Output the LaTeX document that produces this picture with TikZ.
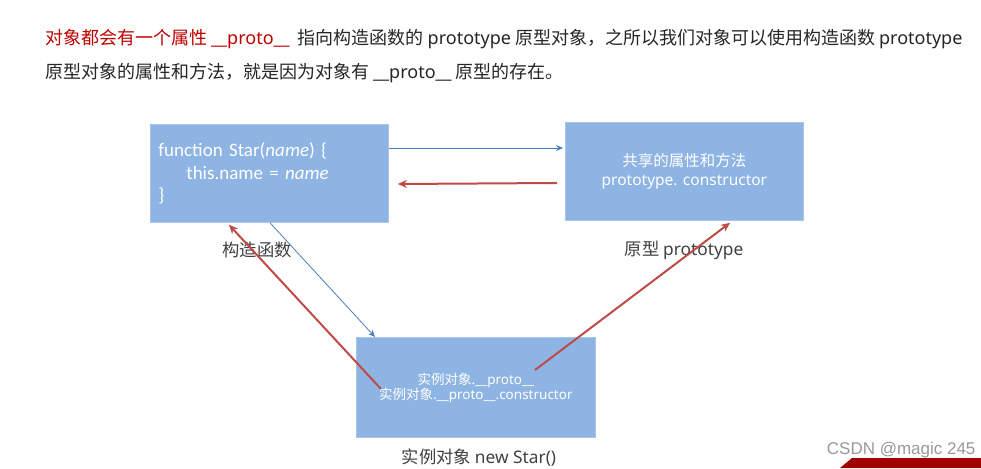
\documentclass[tikz,border=0pt]{standalone}
\usepackage{fontspec}
\setmainfont{Noto Sans CJK SC}
\newfontfamily\latinfont{Noto Sans}
\newfontfamily\codefont{Carlito}
\newfontfamily\wmfont{Liberation Sans}
\newcommand{\lat}[1]{{\latinfont #1}}
\usetikzlibrary{arrows.meta, positioning, calc}
\usepackage{xcolor}
\definecolor{boxblue}{HTML}{8EB4E3}
\definecolor{boxedge}{HTML}{A9C6EA}
\definecolor{arrowblue}{HTML}{4A7EBB}
\definecolor{arrowred}{HTML}{BE4B48}
\definecolor{capgray}{HTML}{404040}
\definecolor{titlered}{HTML}{C00000}
\definecolor{bannerred}{HTML}{A00000}
\tikzstyle{objbox} = [rectangle, minimum width=238pt, minimum height=98pt, anchor=north west,
    draw=boxedge, line width=0.8pt, fill=boxblue, text=white, inner sep=0pt]
\tikzstyle{caption} = [text=capgray, font=\fontsize{17.3}{20}\selectfont]
\tikzstyle{toptext} = [anchor=base west, inner sep=0pt, text=black!85, font=\fontsize{18}{20}\selectfont]
\tikzstyle{thinarrow} = [draw=arrowblue, line width=0.8pt, -{Stealth[length=7pt, width=6pt]}]
\tikzstyle{thickarrow} = [draw=arrowred, line width=2pt, -{Stealth[length=9pt, width=8pt]}]

\begin{document}
\begin{tikzpicture}[x=1pt, y=-1pt]
\useasboundingbox[fill=white] (0,0) rectangle (981,468);
% top explanation
\node (line1) [toptext] at (45,45)
    {{\color{titlered}对象都会有一个属性 \lat{\_\_proto\_\_}} \ 指向构造函数的 \lat{prototype} 原型对象，之所以我们对象可以使用构造函数 \lat{prototype}};
\node (line2) [toptext] at (45,79)
    {原型对象的属性和方法，就是因为对象有 \lat{\_\_proto\_\_} 原型的存在。};
% the three objects
\node (ctor) [objbox, text width=222pt, align=left, font=\codefont\fontsize{19}{22.5}\selectfont] at (150,124)
    {function Star(\textit{name}) \{\\\hspace*{28pt}this.name = \textit{name}\\\}};
\node (proto) [objbox, align=center, font=\fontsize{15.5}{19}\selectfont] at (565,122)
    {共享的属性和方法\\\lat{prototype. constructor}};
\node (inst) [objbox, minimum width=239pt, minimum height=100pt, align=center, font=\fontsize{13.5}{15}\selectfont] at (356,337)
    {实例对象\lat{.\_\_proto\_\_}\\实例对象\lat{.\_\_proto\_\_.constructor}};
% captions
\node (ctorcap) [caption] at (257,250) {构造函数};
\node (protocap) [caption] at (684,250) {原型 \lat{prototype}};
\node (instcap) [caption] at (479,458) {实例对象 \lat{new Star()}};
% connectors
\draw[thinarrow] ([yshift=-24pt]ctor.north east) -- ([xshift=-2pt, yshift=-26pt]proto.north west);
\draw[thickarrow] ([xshift=-8pt, yshift=-61pt]proto.north west) -- ([xshift=9pt, yshift=-60pt]ctor.north east);
\draw[thinarrow] ([xshift=120pt]ctor.south west) -- ([xshift=19pt]inst.north west);
\draw[thickarrow] ([xshift=25pt, yshift=-52pt]inst.north west) -- ([xshift=79pt, yshift=-2pt]ctor.south west);
\draw[thickarrow] ([xshift=179pt, yshift=-33pt]inst.north west) -- ([xshift=165pt, yshift=-2pt]proto.south west);
% watermark
\fill[bannerred] (840,468) -- (852,458) -- (981,458) -- (981,468) -- cycle;
\node (mark) [anchor=east, text=gray!80, font=\wmfont\fontsize{17}{20}\selectfont] at (979,450) {CSDN @magic 245};
\end{tikzpicture}
\end{document}
